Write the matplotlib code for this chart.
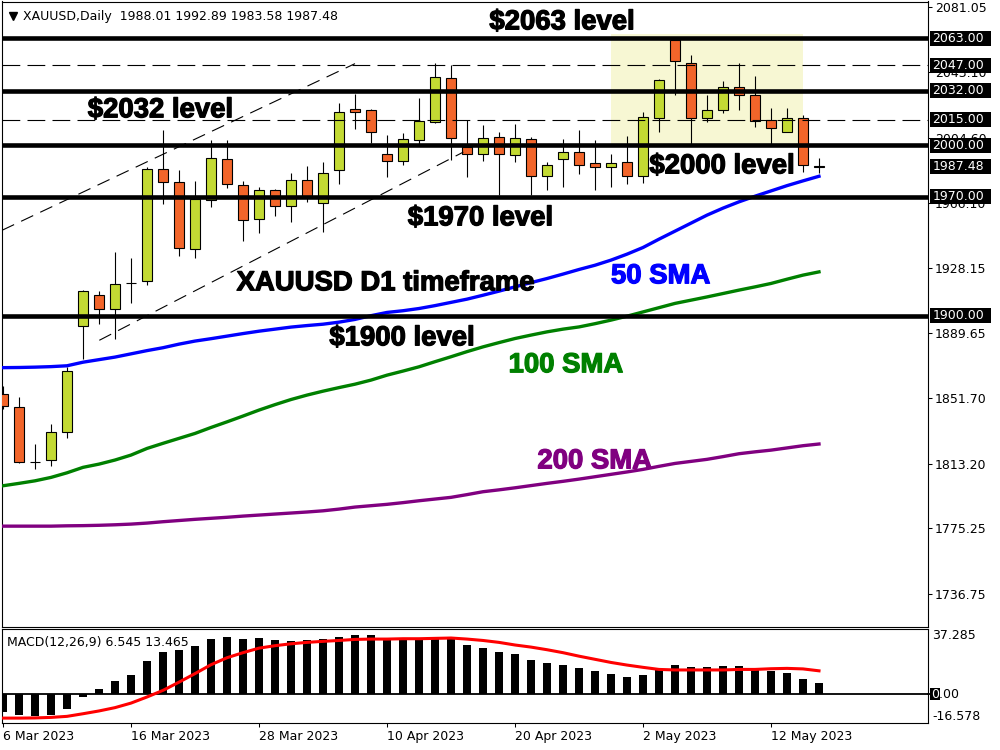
import numpy as np
import matplotlib.pyplot as plt
import matplotlib.transforms as mtransforms
import matplotlib.patheffects as pe
from matplotlib.patches import Rectangle

# XAUUSD daily bars, 6 Mar 2023 .. 17 May 2023 (bar index 0..51)
opens = [1854.1, 1846.3, 1814.4, 1815.2, 1831.6, 1893.8, 1912.0, 1904.3, 1919.4, 1920.2,
         1985.9, 1978.8, 1939.5, 1967.7, 1992.3, 1976.5, 1957.1, 1974.1, 1964.2, 1980.0,
         1966.5, 1985.3, 2021.2, 2021.0, 1995.2, 1991.1, 2002.9, 2014.0, 2039.8, 1998.8,
         1994.7, 2005.2, 1994.1, 2004.0, 1982.3, 1992.3, 1996.4, 1989.4, 1987.6, 1990.0,
         1981.8, 2015.8, 2061.7, 2048.6, 2015.8, 2020.5, 2034.0, 2029.3, 2015.2, 2008.1,
         2015.8, 1988.01]
highs = [1858.7, 1852.1, 1824.8, 1836.5, 1870.1, 1915.0, 1914.3, 1937.2, 1933.7, 1987.4,
         2009.3, 1985.4, 1979.0, 2003.0, 2003.0, 1979.0, 1975.7, 1974.3, 1984.1, 1987.8,
         1990.3, 2024.6, 2030.0, 2021.5, 2006.4, 2007.0, 2028.1, 2048.1, 2046.9, 2015.2,
         2011.7, 2008.1, 2012.3, 2005.0, 1990.5, 2003.5, 2009.3, 2002.9, 1994.7, 2005.8,
         2019.6, 2039.2, 2063.0, 2053.3, 2029.3, 2037.7, 2048.1, 2041.0, 2022.2, 2022.2,
         2018.1, 1992.89]
lows = [1845.3, 1813.4, 1809.9, 1812.0, 1828.1, 1874.4, 1895.5, 1886.2, 1907.6, 1918.2,
        1965.9, 1935.0, 1934.2, 1963.9, 1975.1, 1944.0, 1948.7, 1958.6, 1955.1, 1966.9,
        1949.3, 1977.1, 2009.9, 2001.7, 1981.5, 1988.8, 2001.1, 2012.9, 1991.7, 1981.2,
        1990.9, 1971.2, 1990.5, 1971.2, 1974.1, 1975.7, 1983.5, 1974.1, 1975.7, 1977.1,
        1978.2, 2007.6, 2029.8, 2001.1, 2013.8, 2019.3, 2021.0, 2010.9, 2001.1, 2008.1,
        1984.5, 1983.58]
closes = [1847.0, 1814.0, 1814.4, 1831.6, 1867.4, 1914.3, 1903.8, 1918.4, 1919.4, 1985.9,
          1978.8, 1940.1, 1968.3, 1992.9, 1977.6, 1956.1, 1974.1, 1964.2, 1980.0, 1970.6,
          1984.1, 2019.9, 2019.9, 2007.6, 1991.1, 2003.5, 2014.6, 2040.4, 2004.6, 1995.2,
          2004.6, 1994.7, 2004.6, 1982.3, 1988.8, 1996.4, 1988.8, 1987.6, 1989.4, 1982.3,
          2016.4, 2038.6, 2049.8, 2015.8, 2021.0, 2034.0, 2029.8, 2014.6, 2010.5, 2015.8,
          1988.8, 1987.48]

sma50 = [1869.6, 1869.7, 1869.9, 1870.2, 1870.7, 1872.8, 1874.3, 1875.8, 1877.7, 1879.6,
         1881.3, 1883.4, 1885.2, 1886.6, 1888.1, 1889.6, 1891.0, 1892.2, 1893.4, 1894.3,
         1895.1, 1896.3, 1897.9, 1900.1, 1902.0, 1903.0, 1904.3, 1906.0, 1907.9, 1909.8,
         1912.1, 1914.5, 1917.0, 1919.5, 1921.9, 1924.5, 1927.2, 1929.7, 1932.7, 1936.2,
         1940.1, 1945.0, 1949.7, 1954.4, 1959.1, 1963.2, 1966.9, 1970.2, 1973.3, 1976.4,
         1979.2, 1981.9]
sma100 = [1800.3, 1801.7, 1803.2, 1805.2, 1807.9, 1811.1, 1813.0, 1815.4, 1818.3, 1822.2,
          1825.2, 1828.1, 1831.0, 1834.5, 1837.8, 1841.2, 1844.7, 1847.9, 1850.9, 1853.5,
          1855.8, 1857.9, 1859.9, 1862.3, 1865.2, 1867.6, 1870.1, 1873.1, 1876.0, 1879.0,
          1881.8, 1884.3, 1886.7, 1888.7, 1890.6, 1892.2, 1893.5, 1895.4, 1897.5, 1899.8,
          1902.3, 1904.8, 1907.3, 1909.2, 1911.1, 1913.1, 1915.1, 1917.0, 1919.0, 1921.5,
          1923.9, 1925.8]
sma200 = [1776.6, 1776.6, 1776.6, 1776.6, 1776.8, 1776.9, 1777.1, 1777.4, 1777.8, 1778.4,
          1779.2, 1779.9, 1780.6, 1781.2, 1781.8, 1782.5, 1783.1, 1783.7, 1784.3, 1784.9,
          1785.6, 1786.6, 1787.8, 1788.6, 1789.4, 1790.4, 1791.5, 1792.5, 1793.5, 1795.1,
          1796.8, 1797.9, 1799.1, 1800.4, 1801.7, 1802.9, 1804.2, 1805.6, 1807.0, 1808.4,
          1809.9, 1811.7, 1813.4, 1814.6, 1815.8, 1817.4, 1819.1, 1820.2, 1821.2, 1822.5,
          1823.8, 1824.8]

macd_hist = [-10.1, -12.0, -12.4, -12.0, -8.6, -1.5, 2.9, 7.4, 10.9, 18.9,
             24.1, 25.2, 27.5, 31.5, 32.7, 31.5, 32.1, 30.9, 30.4, 30.9,
             31.5, 32.7, 33.8, 33.8, 32.1, 32.1, 32.1, 32.7, 32.7, 28.1,
             26.4, 24.1, 22.9, 19.5, 17.8, 16.6, 14.9, 13.2, 11.5, 9.7,
             10.9, 13.8, 16.6, 15.5, 15.5, 16.0, 16.0, 14.3, 13.2, 12.0,
             8.6, 6.5]
macd_signal = [-13.6, -13.6, -13.5, -13.2, -12.6, -11.1, -9.5, -7.6, -5.0, -1.5,
               2.3, 7.0, 11.9, 17.0, 21.0, 23.9, 26.5, 27.9, 29.0, 29.8,
               30.4, 30.9, 31.5, 31.7, 31.7, 31.9, 31.9, 32.1, 32.3, 31.7,
               30.9, 29.8, 28.3, 27.1, 25.6, 23.9, 21.9, 20.1, 18.3, 16.8,
               15.5, 14.3, 14.0, 14.0, 14.0, 14.0, 14.3, 14.3, 14.7, 14.9,
               14.6, 13.5]

date_labels = ['6 Mar 2023', '16 Mar 2023', '28 Mar 2023', '10 Apr 2023',
               '20 Apr 2023', '2 May 2023', '12 May 2023']
date_label_bars = [0, 8, 16, 24, 32, 40, 48]

price_ticks = [2081.05, 2043.10, 2004.60, 1966.10, 1928.15, 1889.65,
               1851.70, 1813.20, 1775.25, 1736.75]
solid_levels = [2063.0, 2032.0, 2000.0, 1970.0, 1900.0]
dashed_levels = [2047.0, 2015.0]
boxed_prices = [2063.0, 2047.0, 2032.0, 2015.0, 2000.0, 1987.48, 1970.0, 1900.0]

# channel trend lines (bar index, price)
channel_upper_bars = [-0.06, 22.0]
channel_upper_prices = [1950.2, 2048.0]
channel_lower_bars = [6.02, 28.77]
channel_lower_prices = [1885.65, 1996.1]

# highlighted consolidation zone
zone_bars = [38.0, 50.0]
zone_prices = [2000.0, 2065.2]

GREEN = '#C3DA33'
ORANGE = '#F2652A'


def label(ax, x, y, s, color='black'):
    ax.text(x, y, s, va='baseline', color=color, family='Liberation Sans',
            weight='bold', fontsize=19.8, zorder=8,
            path_effects=[pe.withStroke(linewidth=0.9, foreground=color)])


fig = plt.figure(figsize=(10, 7.5), dpi=100)
ax = fig.add_axes([0.002, 0.1644, 0.926, 0.8336])
ax2 = fig.add_axes([0.002, 0.0356, 0.926, 0.1253])

bars = np.arange(len(opens))
o = np.array(opens)
c = np.array(closes)
colors = np.where(c >= o, GREEN, ORANGE)

#zone behind the candles
ax.add_patch(Rectangle((zone_bars[0], zone_prices[0]), zone_bars[1] - zone_bars[0],
                       zone_prices[1] - zone_prices[0], fc='#F7F7D3', ec='none', zorder=1))

ax.vlines(bars, lows, highs, color='black', lw=0.8, zorder=2)
ax.bar(bars, np.abs(c - o), bottom=np.minimum(o, c), width=0.62, color=colors,
       edgecolor='black', lw=0.8, zorder=3)

ax.plot(bars, sma50, color='#0000FF', lw=2.4, zorder=4)
ax.plot(bars, sma100, color='#008000', lw=2.4, zorder=4)
ax.plot(bars, sma200, color='#800080', lw=2.4, zorder=4)

for lvl in solid_levels:
    ax.axhline(lvl, color='black', lw=3.3, zorder=5)
for lvl in dashed_levels:
    ax.axhline(lvl, color='black', lw=0.8, dashes=(16, 6.5), zorder=5)
ax.plot(channel_upper_bars, channel_upper_prices, color='black', lw=0.8, dashes=(12, 7), zorder=5)
ax.plot(channel_lower_bars, channel_lower_prices, color='black', lw=0.8, dashes=(12, 7), zorder=5)

# annotations
label(ax, 30.4, 2068.1, '$2063 level')
label(ax, 5.3, 2016.5, '$2032 level')
label(ax, 40.4, 1983.6, '$2000 level')
label(ax, 25.3, 1953.1, '$1970 level')
label(ax, 14.6, 1915.0, 'XAUUSD D1 timeframe')
label(ax, 20.4, 1882.7, '$1900 level')
label(ax, 38.0, 1919.1, '50 SMA', '#0000FF')
label(ax, 31.6, 1866.9, '100 SMA', '#008000')
label(ax, 33.4, 1810.5, '200 SMA', '#800080')

ax.set_xlim(-0.0625, 57.8125)
ax.set_ylim(1717.6, 2084.45)
ax.yaxis.tick_right()
ax.set_yticks(price_ticks)
ax.set_yticklabels([f'{v:.2f}' for v in price_ticks])
ax.tick_params(axis='y', direction='out', length=3, width=0.75, pad=2, labelsize=9)
ax.tick_params(axis='x', length=0, labelbottom=False)
for s in ax.spines.values():
    s.set_linewidth(0.8)

# price boxes on the right scale
trans = mtransforms.blended_transform_factory(ax.transAxes, ax.transData)
box_h = 15 * 0.5868
for v in boxed_prices:
    ax.add_patch(Rectangle((1.0022, v - box_h / 2), 0.066, box_h, transform=trans,
                           fc='black', ec='none', clip_on=False, zorder=10))
    ax.text(1.0047, v, f'{v:.2f}', transform=trans, ha='left', va='center',
            color='white', fontsize=9, zorder=11, clip_on=False)

# header
ax.plot([0.0115], [0.9775], marker='v', ms=6, color='black', transform=ax.transAxes, clip_on=False)
ax.text(0.0227, 0.9704, 'XAUUSD,Daily  1988.01 1992.89 1983.58 1987.48',
        transform=ax.transAxes, va='baseline', fontsize=9)

# MACD panel
ax2.axhline(0, color='black', lw=1.3, zorder=1)
ax2.bar(bars, macd_hist, width=0.56, color='black', zorder=2)
ax2.plot(bars, macd_signal, color='#FF0000', lw=2.2, zorder=3)
ax2.set_xlim(-0.0625, 57.8125)
ax2.set_ylim(-16.578, 37.285)
ax2.set_yticks([])
ax2.set_xticks(date_label_bars)
ax2.set_xticklabels(date_labels, ha='left')
ax2.tick_params(axis='x', direction='out', length=3, width=0.75, pad=1.5, labelsize=9)
for s in ax2.spines.values():
    s.set_linewidth(0.8)
ax2.text(0.0054, 0.86, 'MACD(12,26,9) 6.545 13.465', transform=ax2.transAxes,
         va='center', fontsize=9)

trans2 = mtransforms.blended_transform_factory(ax2.transAxes, ax2.transData)
ax2.text(1.0047, 37.285, '37.285', transform=trans2, va='top', fontsize=9, clip_on=False)
ax2.text(1.0047, -16.578, '-16.578', transform=trans2, va='bottom', fontsize=9, clip_on=False)
ax2.plot([1.0, 1.008], [0, 0], color='black', lw=1.3, transform=trans2, clip_on=False)
# "0.00" label with only the zero boxed, as the terminal draws it
ax2.add_patch(Rectangle((1.0022, -3.4), 0.0108, 6.8, transform=trans2, fc='black',
                        ec='none', clip_on=False, zorder=10))
ax2.text(1.0033, 0, '0.00', transform=trans2, va='center', fontsize=9, clip_on=False, zorder=9)
ax2.text(1.0033, 0, '0', transform=trans2, va='center', fontsize=9, color='white',
         clip_on=False, zorder=11)

fig.savefig('out.png', dpi=100)
